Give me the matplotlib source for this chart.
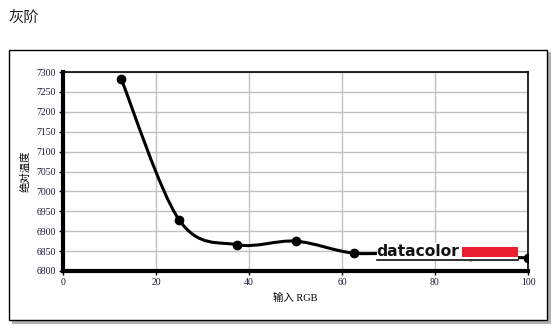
import numpy as np
import matplotlib.pyplot as plt
from matplotlib.path import Path
from matplotlib.patches import PathPatch, Rectangle
from matplotlib.lines import Line2D

plt.rcParams['font.family'] = ['Noto Sans CJK SC', 'DejaVu Sans']

# data
rgb_in = [12.5, 25, 37.5, 50, 62.5, 75, 87.5, 100]
cct = [7283, 6928, 6866, 6875, 6845, 6847, 6838, 6833]
x_ticks = [0, 20, 40, 60, 80, 100]
y_ticks = list(range(6800, 7301, 50))


def smooth_path(xs, ys, tension=0.5):
    # cubic bezier through the points (Catmull-Rom style control points)
    xs = np.asarray(xs, float)
    ys = np.asarray(ys, float)
    verts = [(xs[0], ys[0])]
    codes = [Path.MOVETO]
    n = len(xs)
    for i in range(n - 1):
        p0 = i - 1 if i > 0 else i
        p3 = i + 2 if i + 2 < n else i + 1
        c1 = (xs[i] + (xs[i + 1] - xs[p0]) * tension / 3,
              ys[i] + (ys[i + 1] - ys[p0]) * tension / 3)
        c2 = (xs[i + 1] - (xs[p3] - xs[i]) * tension / 3,
              ys[i + 1] - (ys[p3] - ys[i]) * tension / 3)
        verts += [c1, c2, (xs[i + 1], ys[i + 1])]
        codes += [Path.CURVE4] * 3
    return Path(verts, codes)


W, H = 556, 329
fig = plt.figure(figsize=(W / 100, H / 100), dpi=100)
fig.patch.set_facecolor('white')

# title
fig.text(8 / W, 1 - 18 / H, '灰阶', fontsize=11, va='center', ha='left', color='#222222')

# outer frame with shadow
fig.add_artist(Rectangle((12 / W, 1 - 324 / H), 539 / W, 272 / H, transform=fig.transFigure,
                         facecolor='#b0b0b0', edgecolor='none', zorder=-2))
fig.add_artist(Rectangle((9 / W, 1 - 320 / H), 538 / W, 270 / H, transform=fig.transFigure,
                         facecolor='white', edgecolor='black', linewidth=1.0, zorder=-1))

ax = fig.add_axes([63 / W, 1 - 271 / H, (528 - 63) / W, (271 - 72) / H])
ax.set_zorder(1)
ax.set_xlim(0, 100)
ax.set_ylim(6800, 7300)
ax.set_xticks(x_ticks)
ax.set_yticks(y_ticks)
ax.grid(True, color='#c0c0c0', linewidth=1.0)
ax.set_axisbelow(True)
for s in ['left', 'bottom']:
    ax.spines[s].set_linewidth(3.0)
for s in ['top', 'right']:
    ax.spines[s].set_linewidth(1.2)
ax.tick_params(length=3, width=1, labelsize=7, pad=2)
for lab in ax.get_xticklabels() + ax.get_yticklabels():
    lab.set_family('Liberation Serif')
    lab.set_color('#1a1a3a')

ax.add_patch(PathPatch(smooth_path(rgb_in, cct), facecolor='none', edgecolor='black',
                       linewidth=2.2, zorder=3))
ax.plot(rgb_in, cct, linestyle='none', marker='o', color='black', markersize=6, zorder=4)

ax.set_xlabel('输入 RGB', fontsize=7.5, labelpad=4, family=['Liberation Serif', 'Noto Sans CJK SC'])
ax.set_ylabel('绝对温度', fontsize=7.5, labelpad=4)

# datacolor logo
fig.add_artist(Rectangle((377 / W, 1 - 261 / H), 141 / W, 18 / H, transform=fig.transFigure,
                         facecolor='white', edgecolor='none', zorder=5))
fig.text(376 / W, 1 - 251 / H, 'datacolor', fontsize=11.2, fontweight='bold', family='DejaVu Sans',
         va='center', ha='left', color='#111111', zorder=6)
fig.add_artist(Rectangle((462 / W, 1 - 257 / H), 56 / W, 10 / H, transform=fig.transFigure,
                         facecolor='#e8202f', edgecolor='none', zorder=6))
fig.add_artist(Line2D([377 / W, 518 / W], [1 - 260 / H, 1 - 260 / H], transform=fig.transFigure,
                      color='#111111', linewidth=1.2, zorder=6))

fig.savefig('out.png', dpi=100)
